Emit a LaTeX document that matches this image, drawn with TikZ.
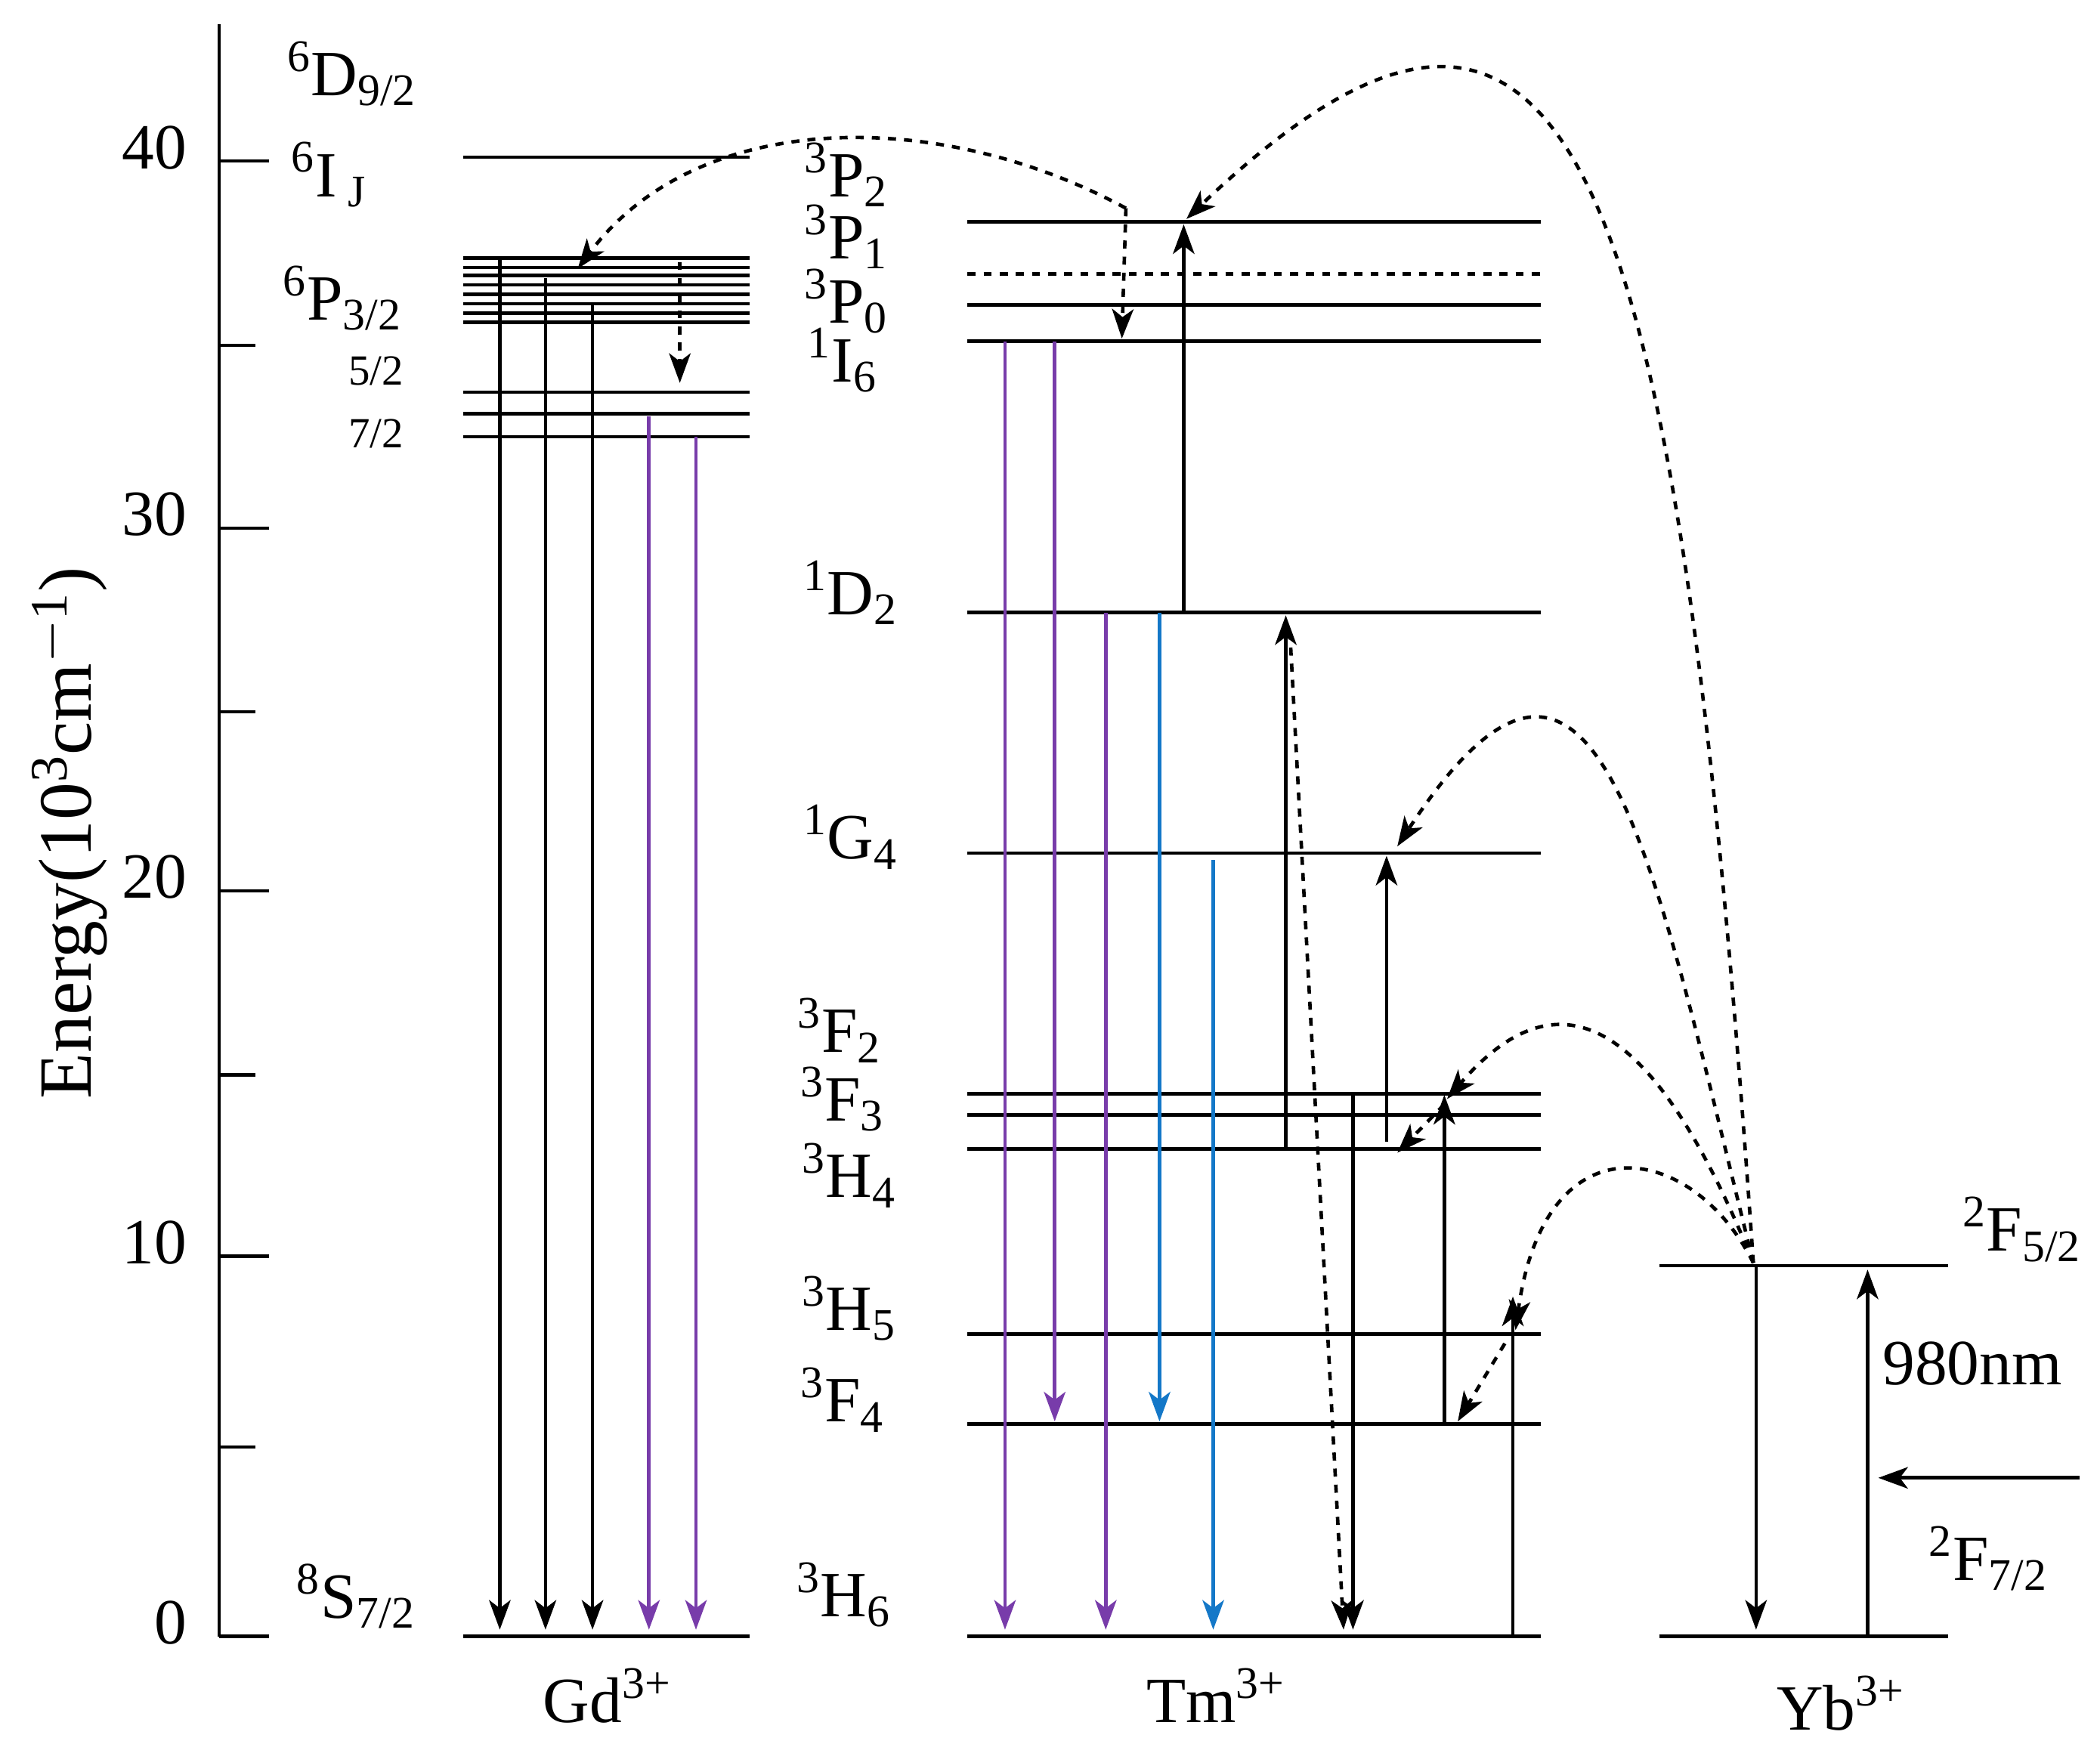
\documentclass[tikz,border=0pt]{standalone}
\usepackage{fontspec}
\setmainfont{Liberation Serif}
\usetikzlibrary{arrows.meta}
\newcommand{\up}[1]{\textsuperscript{#1}}
\newcommand{\dn}[1]{\textsubscript{#1}}
\begin{document}
\begin{tikzpicture}[x=0.5pt,y=-0.5pt,line width=1.2pt,>={Stealth[length=11pt,width=8pt,inset=3pt]},
 lvl/.style={line width=1.3pt},
 lab/.style={font=\fontsize{24}{26}\selectfont,inner sep=0pt},
 sm/.style={font=\fontsize{16}{18}\selectfont,inner sep=0pt},
 ar/.style={->,line width=1.3pt},
 pu/.style={->,line width=1.3pt,draw={rgb,255:red,120;green,60;blue,170},fill={rgb,255:red,120;green,60;blue,170}},
 bl/.style={->,line width=1.3pt,draw={rgb,255:red,20;green,120;blue,200},fill={rgb,255:red,20;green,120;blue,200}},
 da/.style={->,dashed,line width=1.3pt}]
\useasboundingbox (0,0) rectangle (1563,1300);
% axis
\draw (163,18) -- (163,1218);
\foreach \y/\t in {1218/0,935/10,663/20,393/30,120/40}{\draw (163,\y)--(200,\y); \node[lab,anchor=east] at (140,\y-10) {\t};}
\foreach \y in {1077,800,530,257}{\draw (163,\y)--(190,\y);}
\node[lab,rotate=90,font=\fontsize{28}{30}\selectfont] (en) at (52,620) {Energy(10\up{3}cm\up{$-$1})};
% Gd
\foreach \y in {117,1218,192,199,205,212,219,226,233,240,292,308,325}{\draw[lvl] (345,\y)--(558,\y);}
\node[lab] at (262,55) {\up{6}D\dn{9/2}};
\node[lab] at (245,130) {\up{6}I\dn{ J}};
\node[lab] at (255,222) {\up{6}P\dn{3/2}};
\node[sm] at (280,276) {5/2};
\node[sm] at (280,323) {7/2};
\node[lab] at (265,1188) {\up{8}S\dn{7/2}};
\node[lab] at (452,1262) {Gd\up{3+}};
\draw[ar] (372,192)--(372,1213);
\draw[ar] (406,207)--(406,1213);
\draw[ar] (441,226)--(441,1213);
\draw[pu] (483,310)--(483,1213);
\draw[pu] (518,325)--(518,1213);
\draw[da] (506,195)--(506,285);
% Tm
\foreach \y in {165,227,254,456,635,814,830,855,993,1060,1218}{\draw[lvl] (720,\y)--(1147,\y);}
\draw[lvl,dashed] (720,204)--(1147,204);
\node[lab] at (630,130) {\up{3}P\dn{2}};
\node[lab] at (630,176) {\up{3}P\dn{1}};
\node[lab] at (630,224) {\up{3}P\dn{0}};
\node[lab] at (627,268) {\up{1}I\dn{6}};
\node[lab] at (633,441) {\up{1}D\dn{2}};
\node[lab] at (633,623) {\up{1}G\dn{4}};
\node[lab] at (625,767) {\up{3}F\dn{2}};
\node[lab] at (627,818) {\up{3}F\dn{3}};
\node[lab] at (632,875) {\up{3}H\dn{4}};
\node[lab] at (632,974) {\up{3}H\dn{5}};
\node[lab] at (627,1042) {\up{3}F\dn{4}};
\node[lab] at (628,1187) {\up{3}H\dn{6}};
\node[lab] at (905,1262) {Tm\up{3+}};
\draw[pu] (748,254)--(748,1213);
\draw[pu] (785,254)--(785,1058);
\draw[pu] (823,456)--(823,1213);
\draw[bl] (863,456)--(863,1058);
\draw[bl] (903,640)--(903,1213);
\draw[ar] (881,456)--(881,167);
\draw[ar] (957,855)--(957,458);
\draw[da] (960,470)--(1000,1213);
\draw[ar] (1007,814)--(1007,1213);
\draw[ar] (1032,850)--(1032,637);
\draw[ar] (1075,1060)--(1075,815);
\draw[ar] (1126,1218)--(1126,965);
\draw[da] (1120,1000)--(1085,1058);
\draw[da] (1075,822)--(1040,858);
\draw[da] (838,155)--(835,252);
\draw[da] (838,155) .. controls (700,80) and (520,80) .. (430,200);
% Yb
\draw[lvl] (1235,942)--(1450,942);
\draw[lvl] (1235,1218)--(1450,1218);
\coordinate (s) at (1305,940);
\draw[ar] (1307,942)--(1307,1213);
\draw[ar] (1390,1218)--(1390,945);
\draw[ar] (1548,1100)--(1398,1100);
\node[lab] at (1468,1015) {980nm};
\node[lab] at (1505,915) {\up{2}F\dn{5/2}};
\node[lab] at (1480,1160) {\up{2}F\dn{7/2}};
\node[lab] at (1370,1268) {Yb\up{3+}};
\draw[da] (s) .. controls (1250,150) and (1180,-120) .. (883,163);
\draw[da] (s) .. controls (1230,640) and (1190,400) .. (1040,630);
\draw[da] (s) .. controls (1240,780) and (1170,710) .. (1077,818);
\draw[da] (s) .. controls (1260,850) and (1150,830) .. (1128,990);
\end{tikzpicture}
\end{document}
